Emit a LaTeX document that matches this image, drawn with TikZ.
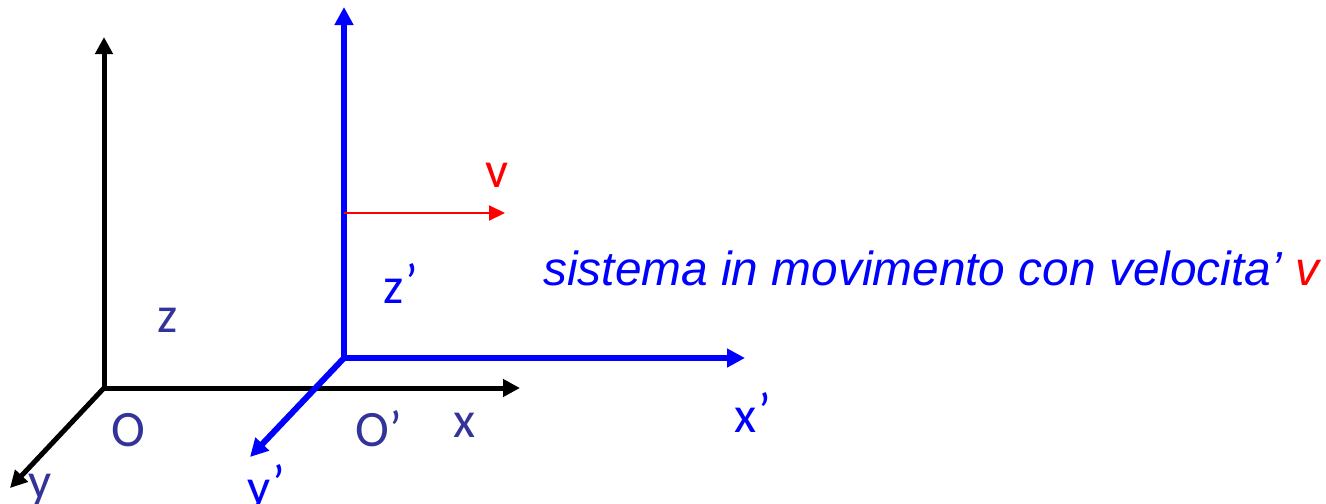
\documentclass[tikz,border=0pt]{standalone}
\usepackage{fontspec}
\setmainfont{Carlito}
\newfontfamily\arialfont{Liberation Sans}
\usetikzlibrary{arrows.meta}
\definecolor{labelblue}{RGB}{51,51,153}
\definecolor{primeblue}{RGB}{0,0,255}
\tikzset{
	fixedaxis/.style={line width=2.5pt, {Triangle[length=8.5pt,width=8.5pt]}-{Triangle[length=8.5pt,width=8.5pt]}},
	fixedy/.style={line width=2.5pt, -{Triangle[length=8.5pt,width=8.5pt]}},
	movingaxis/.style={primeblue, line width=3pt, {Triangle[length=9pt,width=9pt]}-{Triangle[length=9pt,width=9pt]}},
	movingy/.style={primeblue, line width=3pt, -{Triangle[length=9pt,width=9pt]}},
	lab/.style={text=labelblue, inner sep=0pt, anchor=base},
	plab/.style={text=primeblue, inner sep=0pt, anchor=base},
}
\newcommand{\hiprime}{\kern1pt\raisebox{2pt}{’}}
\begin{document}
\begin{tikzpicture}[x=0.5pt, y=-0.5pt, font=\fontsize{25.5}{30}\selectfont, line join=miter]
		\useasboundingbox (0,0) rectangle (1326,503);
		% sistema fisso
		\coordinate (O) at (104,388);
		\coordinate (ztip) at (104,37);
		\coordinate (xtip) at (520,388);
		\coordinate (ytip) at (10,488);
		\draw[fixedaxis] (ztip) -- (O) -- (xtip);
		\draw[fixedy] (O) -- (ytip);
		% sistema in moto
		\coordinate (Op) at (344,358);
		\coordinate (zptip) at (344,7);
		\coordinate (xptip) at (745,358);
		\coordinate (yptip) at (250,457);
		\draw[movingaxis] (zptip) -- (Op) -- (xptip);
		\draw[movingy] (Op) -- (yptip);
		% velocita'
		\coordinate (vstart) at (344,213);
		\coordinate (vtip) at (505,213);
		\draw[red, line width=1pt, -{Triangle[length=8pt,width=7.5pt]}] (vstart) -- (vtip);
		\node[text=red, inner sep=0pt, anchor=base] (vlab) at (497,187) {v};
		% etichette
		\node[lab] (zlab) at (168,332) {z};
		\node[lab] (olab) at (128,446) {O};
		\node[lab] (xlab) at (465,437) {x};
		\node[lab] (ylab) at (40,498) {y};
		\node[lab] (oplab) at (379,446) {O’};
		\node[plab] (zplab) at (401,303) {z\hiprime};
		\node[plab] (xplab) at (753,432) {x\hiprime};
		\node[plab] (yplab) at (266,504) {y\hiprime};
		\node[text=primeblue, inner sep=0pt, anchor=base west, font=\arialfont\itshape\fontsize{23.9}{28}\selectfont] (motion) at (543,285) {sistema in movimento con velocita’ \textcolor{red}{v}};
\end{tikzpicture}
\end{document}
